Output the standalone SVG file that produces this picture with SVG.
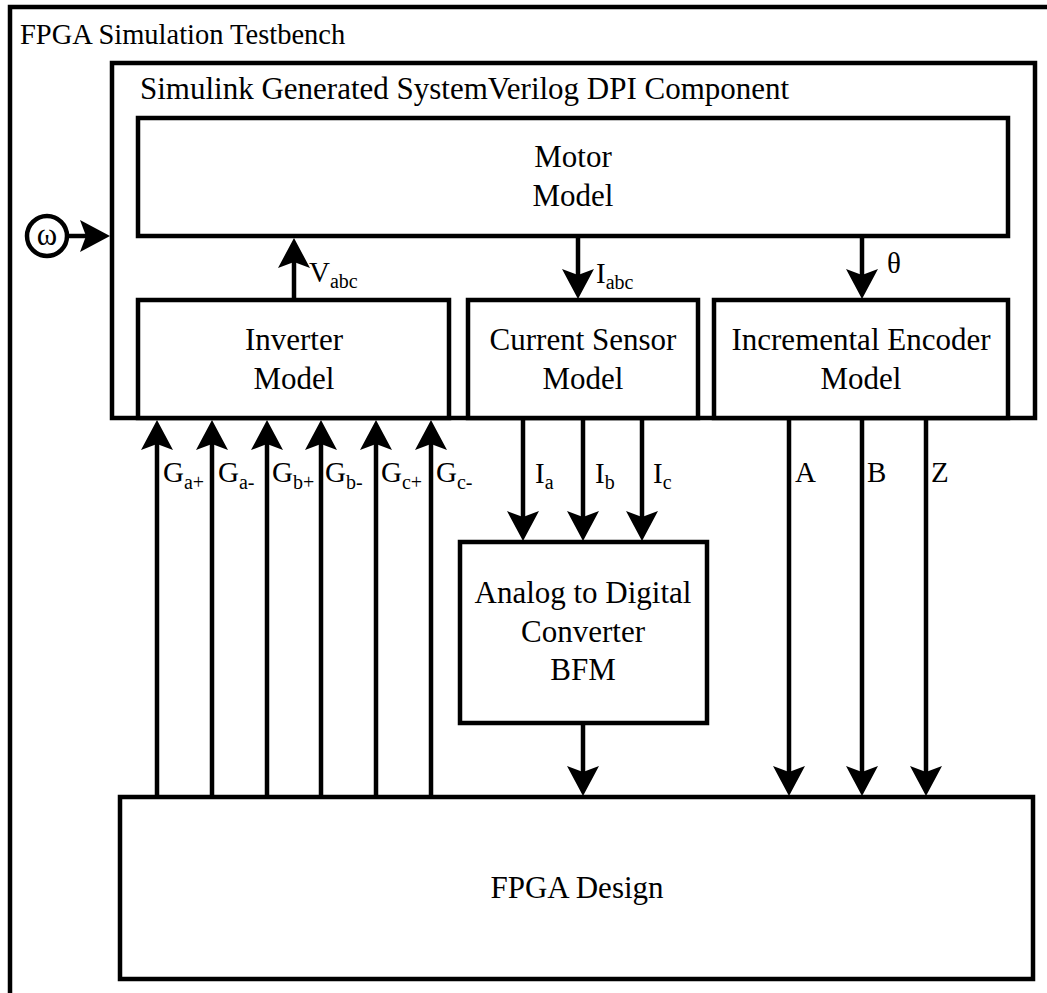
<svg xmlns="http://www.w3.org/2000/svg" width="1047" height="993" viewBox="0 0 1047 993">
  <style>
    text { font-family: "Liberation Serif", "Times New Roman", serif; fill: #000; }
    .box { fill: #fff; stroke: #000; stroke-width: 4.5; }
    .frame { fill: none; stroke: #000; stroke-width: 4.5; }
    .wire { fill: none; stroke: #000; stroke-width: 4.5; marker-end: url(#ah); }
    .title { font-size: 28.5px; }
    .caption { font-size: 31px; }
    .node { font-size: 31px; text-anchor: middle; }
    .lbl { font-size: 29px; }
    .sub { font-size: 20px; }
  </style>
  <defs>
    <!-- notched arrowhead; tip sits 10px beyond the line end -->
    <marker id="ah" viewBox="-21 -17 32 34" refX="0" refY="0" markerWidth="32" markerHeight="34" markerUnits="userSpaceOnUse" orient="auto">
      <path d="M10,0 L-20,-16 L-14,0 L-20,16 Z" fill="#000"/>
    </marker>
  </defs>

  <rect width="1047" height="993" fill="#fff"/>

  <!-- testbench frame (runs past the right and bottom edges) -->
  <g id="testbench">
    <path class="frame" d="M10,1000 V7 H1060"/>
    <text class="title" x="20" y="44">FPGA Simulation Testbench</text>
  </g>

  <!-- DPI component container -->
  <g id="dpi">
    <rect class="box" x="112" y="63" width="923" height="355"/>
    <text class="caption" x="140" y="99">Simulink Generated SystemVerilog DPI Component</text>
  </g>

  <g id="motor">
    <rect class="box" x="138" y="118" width="870" height="118"/>
    <text class="node" x="573" y="167">Motor</text>
    <text class="node" x="573" y="206">Model</text>
  </g>

  <g id="inverter">
    <rect class="box" x="138" y="300" width="311" height="118"/>
    <text class="node" x="294" y="350">Inverter</text>
    <text class="node" x="294" y="389">Model</text>
  </g>

  <g id="current-sensor">
    <rect class="box" x="468" y="300" width="230" height="118"/>
    <text class="node" x="583" y="350">Current Sensor</text>
    <text class="node" x="583" y="389">Model</text>
  </g>

  <g id="encoder">
    <rect class="box" x="714" y="300" width="294" height="118"/>
    <text class="node" x="861" y="350">Incremental Encoder</text>
    <text class="node" x="861" y="389">Model</text>
  </g>

  <g id="adc">
    <rect class="box" x="460" y="542" width="247" height="181"/>
    <text class="node" x="583" y="603">Analog to Digital</text>
    <text class="node" x="583" y="642">Converter</text>
    <text class="node" x="583" y="680">BFM</text>
  </g>

  <g id="fpga-design">
    <rect class="box" x="120" y="797" width="913" height="182"/>
    <text class="node" x="577" y="898">FPGA Design</text>
  </g>

  <g id="omega">
    <circle cx="47" cy="236" r="20" fill="#fff" stroke="#000" stroke-width="4.5"/>
    <text x="47" y="245" style="font-size:31px" text-anchor="middle">ω</text>
  </g>

  <g id="connectors">
    <path class="wire" d="M69,236 H100"/>
    <path class="wire" d="M294,300 V248"/>
    <path class="wire" d="M578,236 V289"/>
    <path class="wire" d="M862,236 V289"/>

    <path class="wire" d="M157,797 V430"/>
    <path class="wire" d="M212,797 V430"/>
    <path class="wire" d="M267,797 V430"/>
    <path class="wire" d="M321,797 V430"/>
    <path class="wire" d="M376,797 V430"/>
    <path class="wire" d="M431,797 V430"/>

    <path class="wire" d="M523,418 V531"/>
    <path class="wire" d="M583,418 V531"/>
    <path class="wire" d="M642,418 V531"/>

    <path class="wire" d="M583,723 V786"/>

    <path class="wire" d="M789,418 V786"/>
    <path class="wire" d="M862,418 V786"/>
    <path class="wire" d="M926,418 V786"/>
  </g>

  <g id="labels">
    <text class="lbl" x="309" y="282">V<tspan class="sub" dy="6">abc</tspan></text>
    <text class="lbl" x="596" y="283">I<tspan class="sub" dy="6">abc</tspan></text>
    <text class="lbl" x="887" y="273">θ</text>

    <text class="lbl" x="163" y="482">G<tspan class="sub" dy="7">a+</tspan></text>
    <text class="lbl" x="218" y="482">G<tspan class="sub" dy="7">a-</tspan></text>
    <text class="lbl" x="272" y="482">G<tspan class="sub" dy="7">b+</tspan></text>
    <text class="lbl" x="325" y="482">G<tspan class="sub" dy="7">b-</tspan></text>
    <text class="lbl" x="381" y="482">G<tspan class="sub" dy="7">c+</tspan></text>
    <text class="lbl" x="436" y="482">G<tspan class="sub" dy="7">c-</tspan></text>

    <text class="lbl" x="535" y="483">I<tspan class="sub" dy="6">a</tspan></text>
    <text class="lbl" x="595" y="483">I<tspan class="sub" dy="6">b</tspan></text>
    <text class="lbl" x="653" y="483">I<tspan class="sub" dy="6">c</tspan></text>

    <text class="lbl" x="795" y="482">A</text>
    <text class="lbl" x="867" y="482">B</text>
    <text class="lbl" x="931" y="482">Z</text>
  </g>
</svg>
